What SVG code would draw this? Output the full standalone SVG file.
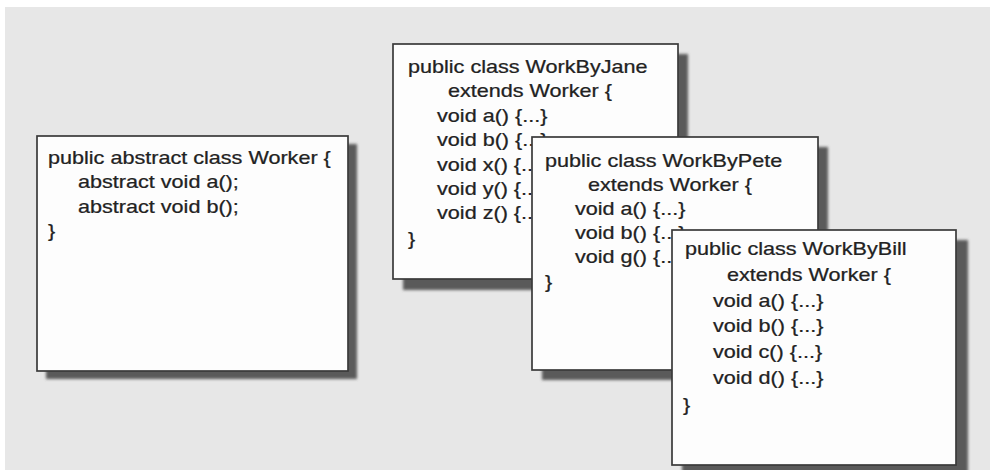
<svg xmlns="http://www.w3.org/2000/svg" width="990" height="470" viewBox="0 0 990 470">
  <defs>
    <filter id="soft" x="-10%" y="-10%" width="120%" height="120%">
      <feGaussianBlur stdDeviation="1.6"/>
    </filter>
  </defs>
  <style>
    .shadow { fill: #5a5a5a; filter: url(#soft); }
    .card { fill: #fdfdfd; stroke: #3a3a3a; stroke-width: 1.7; }
    .code { font-family: "Liberation Sans", Arial, Helvetica, sans-serif; font-size: 18px; fill: #222222; stroke: #222222; stroke-width: 0.25; }
  </style>

  <!-- page background -->
  <rect x="0" y="0" width="990" height="470" fill="#ffffff"/>
  <rect x="5" y="7" width="985" height="463" fill="#e7e7e7"/>

  <!-- abstract base class -->
  <g id="worker">
    <rect class="shadow" x="46" y="144" width="311" height="235"/>
    <rect class="card" x="37" y="136" width="311" height="235"/>
    <g class="code" transform="translate(48,0) scale(1.2,1)">
      <text x="0" y="164">public abstract class Worker {</text>
      <text x="25" y="188.5">abstract void a();</text>
      <text x="25" y="213">abstract void b();</text>
      <text x="0" y="237">}</text>
    </g>
  </g>

  <!-- subclass by Jane -->
  <g id="work-by-jane">
    <rect class="shadow" x="403" y="54" width="285" height="236"/>
    <rect class="card" x="393" y="44" width="285" height="235"/>
    <g class="code" transform="translate(408,0) scale(1.2,1)">
      <text x="0" y="73">public class WorkByJane</text>
      <text x="33.3" y="97">extends Worker {</text>
      <text x="24.2" y="122">void a() {...}</text>
      <text x="24.2" y="146">void b() {...}</text>
      <text x="24.2" y="171">void x() {...}</text>
      <text x="24.2" y="195">void y() {...}</text>
      <text x="24.2" y="219">void z() {...}</text>
      <text x="0" y="245">}</text>
    </g>
  </g>

  <!-- subclass by Pete -->
  <g id="work-by-pete">
    <rect class="shadow" x="542" y="147" width="286" height="233"/>
    <rect class="card" x="532" y="137" width="286" height="233"/>
    <g class="code" transform="translate(545,0) scale(1.2,1)">
      <text x="0" y="167">public class WorkByPete</text>
      <text x="35.8" y="191">extends Worker {</text>
      <text x="25" y="215">void a() {...}</text>
      <text x="25" y="239">void b() {...}</text>
      <text x="25" y="263">void g() {...}</text>
      <text x="0" y="288">}</text>
    </g>
  </g>

  <!-- subclass by Bill -->
  <g id="work-by-bill">
    <rect class="shadow" x="682" y="240" width="286" height="236"/>
    <rect class="card" x="672" y="230" width="284" height="235"/>
    <g class="code" transform="translate(685,0) scale(1.2,1)">
      <text x="0" y="255">public class WorkByBill</text>
      <text x="35" y="281">extends Worker {</text>
      <text x="23.3" y="307">void a() {...}</text>
      <text x="23.3" y="332">void b() {...}</text>
      <text x="23.3" y="358">void c() {...}</text>
      <text x="23.3" y="384">void d() {...}</text>
      <text x="-1.6" y="411">}</text>
    </g>
  </g>
</svg>
